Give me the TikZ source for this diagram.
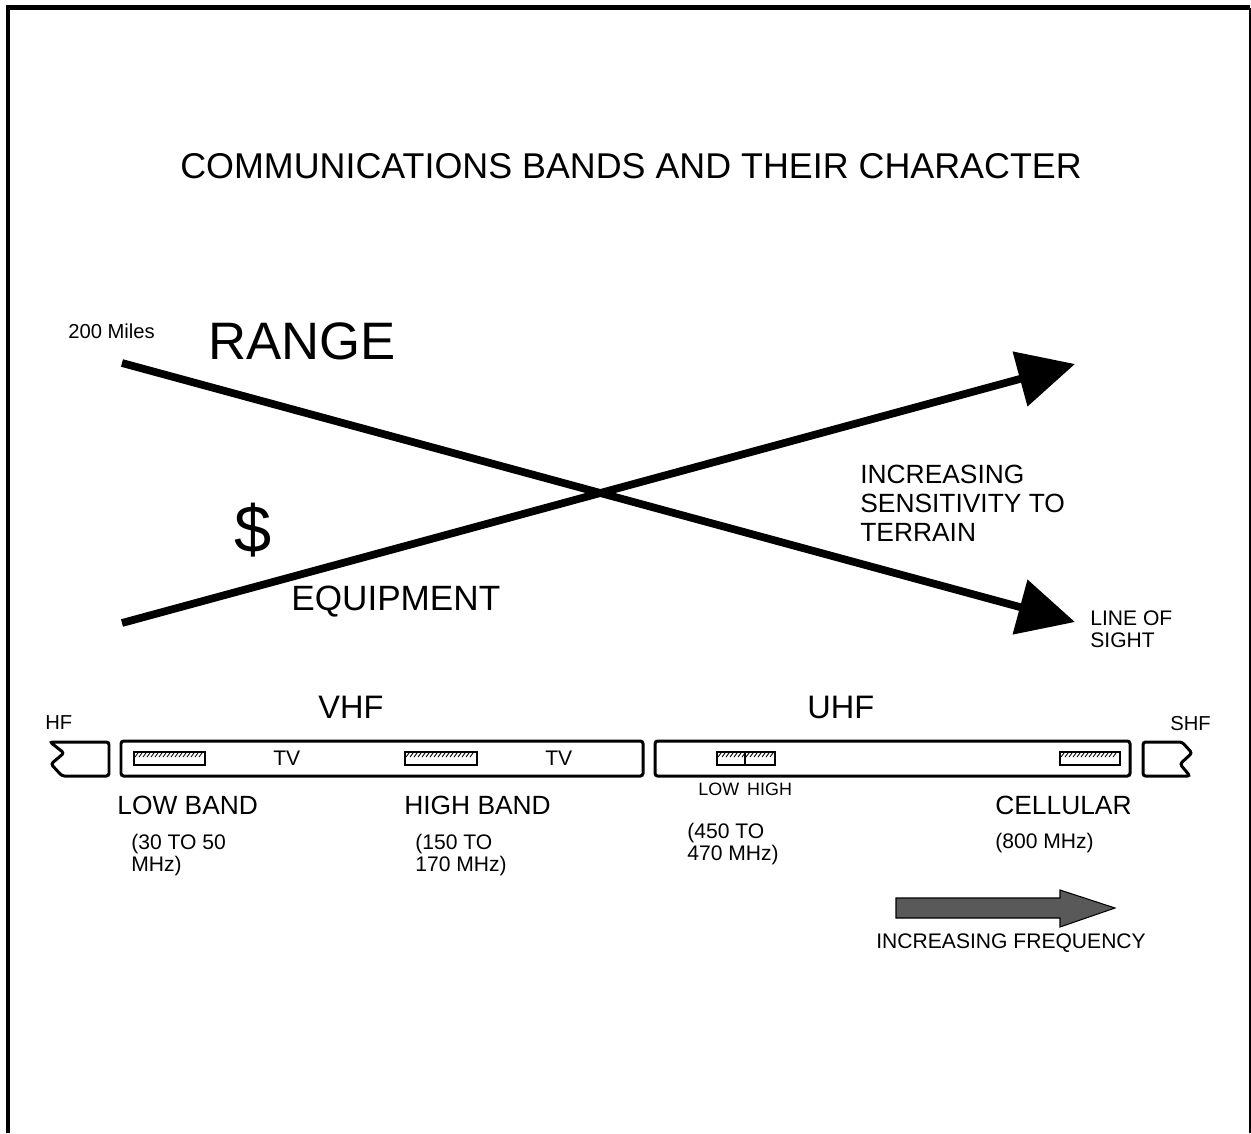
\documentclass[tikz,border=0pt]{standalone}
\usepackage{fontspec}
\setmainfont{Liberation Sans}
\usetikzlibrary{arrows.meta}

% small band marker with a hatched strip on top
\newcommand{\bandmark}[2]{%
	\draw[line width=0.6pt] (#1,752) rectangle (#2,765);
	\pgfmathsetmacro{\hend}{#2-#1-5}
	\foreach \hx in {0,4,...,\hend}
		\draw[line width=0.5pt] ({#1+\hx+1},757) -- ({#1+\hx+4},753);
}

\begin{document}
\begin{tikzpicture}[x=0.02cm, y=-0.02cm,
			every node/.style={inner sep=0pt, anchor=west, align=left},
			titletext/.style={font=\fontsize{20.4}{24}\selectfont},
			hugetext/.style={font=\fontsize{30}{36}\selectfont},
			bigtext/.style={font=\fontsize{18.5}{22}\selectfont},
			midtext/.style={font=\fontsize{15}{16.5}\selectfont},
			smalltext/.style={font=\fontsize{12}{12.8}\selectfont},
			tinytext/.style={font=\fontsize{11.5}{13}\selectfont},
			trend/.style={line width=4.4pt, -{Triangle[length=1.14cm, width=1.1cm]}},
			bandbox/.style={draw, line width=1.7pt, rounded corners=1.5pt},
			]
			\useasboundingbox (0,0) rectangle (1251,1133);
			%Frame
				\draw[line width=2.3pt] (8,1133) -- (8,7.5) -- (1250,7.5);
				\draw[line width=0.8pt] (1250,7.5) -- (1250,1133);

			%Titles
				\node[titletext]	(title)		at (180,166)	{COMMUNICATIONS BANDS AND THEIR CHARACTER};
				\node[hugetext]		(range)		at (208,341)	{RANGE};
				\node[tinytext]		(miles)		at (68,331)		{200 Miles};
				\node[font=\fontsize{38}{40}\selectfont]	(dollar)	at (234,530)	{\$};
				\node[font=\fontsize{20}{24}\selectfont]	(equipment)	at (291,602)	{EQUIPMENT};
				\node[midtext]		(terrain)	at (860,503)	{INCREASING\\SENSITIVITY TO\\TERRAIN};
				\node[smalltext]	(sight)		at (1090,629)	{LINE OF\\SIGHT};

			%Trend lines
				\coordinate (range-start)	at (122,363);
				\coordinate (range-end)		at (1075,622);
				\coordinate (cost-start)	at (122,623);
				\coordinate (cost-end)		at (1075,364);
				\draw[trend] (range-start) -- (range-end);
				\draw[trend] (cost-start) -- (cost-end);

			%Band bar
				\draw[bandbox] (121,741) rectangle (643,776);
				\draw[bandbox] (655,741) rectangle (1130,776);
				\draw[bandbox] (50,742) -- (109,742) -- (109,776) -- (62,776) -- (51,764) -- (64,753) -- cycle;
				\draw[bandbox] (1143,742) -- (1182,742) -- (1192,753) -- (1180,764) -- (1190,776) -- (1143,776) -- cycle;
				\bandmark{134}{205}
				\bandmark{405}{477}
				\bandmark{717}{775}
				\draw[line width=0.6pt] (745,752) -- (745,765);
				\bandmark{1060}{1120}

			%Band labels
				\node[bigtext]		(vhf)		at (318,707)	{VHF};
				\node[bigtext]		(uhf)		at (807,707)	{UHF};
				\node[tinytext]		(hf)		at (45,723)		{HF};
				\node[tinytext]		(shf)		at (1170,724)	{SHF};
				\node[smalltext]	(tv-low)	at (273,758)	{TV};
				\node[smalltext]	(tv-high)	at (545,758)	{TV};
				\node[midtext]		(lowband)	at (117,805)	{LOW BAND};
				\node[midtext]		(highband)	at (404,805)	{HIGH BAND};
				\node[midtext]		(cellular)	at (995,805)	{CELLULAR};
				\node[font=\fontsize{10.2}{12}\selectfont]	(uhf-split)	at (698,789)	{LOW\hspace{0.45em}HIGH};
				\node[smalltext]	(lowband-f)		at (131,855)	{(30 TO 50\\MHz)};
				\node[smalltext]	(highband-f)	at (415,855)	{(150 TO\\170 MHz)};
				\node[smalltext]	(uhf-f)			at (687,844)	{(450 TO\\470 MHz)};
				\node[smalltext]	(cellular-f)	at (995,843)	{(800 MHz)};

			%Frequency arrow
				\draw[line width=0.6pt, fill=black!65] (896,898) -- (1060,898) -- (1060,890) -- (1115,908) -- (1060,927) -- (1060,918) -- (896,918) -- cycle;
				\node[smalltext]	(frequency)	at (876,943)	{INCREASING FREQUENCY};
\end{tikzpicture}
\end{document}
